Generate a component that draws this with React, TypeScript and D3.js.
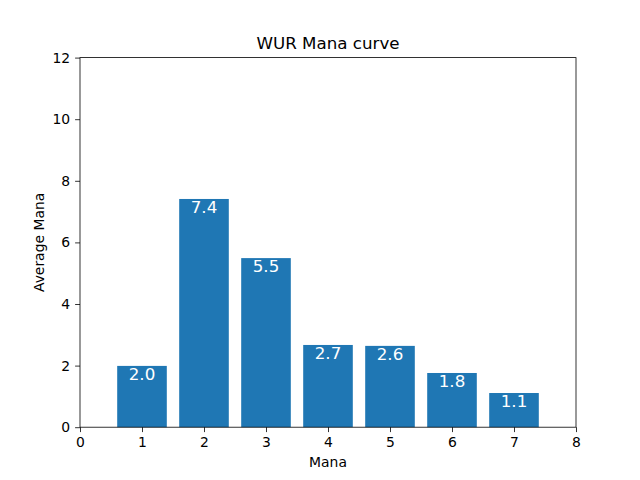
import React, { useEffect, useRef } from 'react';
import * as d3 from 'd3';

const manaCosts = [1, 2, 3, 4, 5, 6, 7];
const averageMana = [1.99, 7.41, 5.49, 2.67, 2.64, 1.76, 1.11];
const xTicks = [0, 1, 2, 3, 4, 5, 6, 7, 8];
const yTicks = [0, 2, 4, 6, 8, 10, 12];

const W = 640;
const H = 480;

const App = () => {
  const svgRef = useRef(null);

  useEffect(() => {
    const svg = d3.select(svgRef.current);
    svg.selectAll('*').remove();

    const margin = { top: 57.6, right: 64, bottom: 52.8, left: 80 };
    const width = W - margin.left - margin.right;
    const height = H - margin.top - margin.bottom;
    const font = 'DejaVu Sans, sans-serif';

    const x = d3.scaleLinear().domain([0, 8]).range([0, width]);
    const y = d3.scaleLinear().domain([0, 12]).range([height, 0]);

    svg.append('rect').attr('width', W).attr('height', H).attr('fill', '#fff');

    const chart = svg.append('g')
      .attr('transform', `translate(${margin.left},${margin.top})`);

    // bars
    const bw = x(0.8) - x(0);
    chart.selectAll('.bar')
      .data(manaCosts)
      .enter().append('rect')
      .attr('class', 'bar')
      .attr('x', d => x(d) - bw / 2)
      .attr('y', (d, i) => y(averageMana[i]))
      .attr('width', bw)
      .attr('height', (d, i) => height - y(averageMana[i]))
      .attr('fill', '#1f77b4');

    // value labels inside bars
    chart.selectAll('.lbl')
      .data(manaCosts)
      .enter().append('text')
      .attr('class', 'lbl')
      .attr('x', d => x(d))
      .attr('y', (d, i) => y(averageMana[i]) + 14)
      .attr('text-anchor', 'middle')
      .attr('fill', '#fff')
      .style('font-family', font)
      .style('font-size', '16.7px')
      .text((d, i) => averageMana[i].toFixed(1));

    const xAxis = chart.append('g')
      .attr('transform', `translate(0,${height})`)
      .call(d3.axisBottom(x).tickValues(xTicks).tickFormat(d3.format('d')).tickSize(4.9).tickPadding(4.9));
    const yAxis = chart.append('g')
      .call(d3.axisLeft(y).tickValues(yTicks).tickFormat(d3.format('d')).tickSize(4.9).tickPadding(4.9));

    [xAxis, yAxis].forEach(a => {
      a.select('.domain').remove();
      a.selectAll('line').attr('stroke', '#000').attr('stroke-width', 0.8);
      a.selectAll('text').style('font-family', font).style('font-size', '13.9px').attr('fill', '#000');
    });

    // frame
    chart.append('rect')
      .attr('width', width)
      .attr('height', height)
      .attr('fill', 'none')
      .attr('stroke', '#000')
      .attr('stroke-width', 0.8);

    svg.append('text')
      .attr('x', margin.left + width / 2)
      .attr('y', margin.top - 8.3)
      .attr('text-anchor', 'middle')
      .style('font-family', font)
      .style('font-size', '16.7px')
      .text('WUR Mana curve');

    svg.append('text')
      .attr('x', margin.left + width / 2)
      .attr('y', margin.top + height + 40)
      .attr('text-anchor', 'middle')
      .style('font-family', font)
      .style('font-size', '13.9px')
      .text('Mana');

    svg.append('text')
      .attr('transform', `translate(${43.5},${margin.top + height / 2}) rotate(-90)`)
      .attr('text-anchor', 'middle')
      .style('font-family', font)
      .style('font-size', '13.9px')
      .text('Average Mana');
  }, []);

  return <svg ref={svgRef} width={W} height={H} style={{ display: 'block', margin: -8 }}></svg>;
};

export default App;
